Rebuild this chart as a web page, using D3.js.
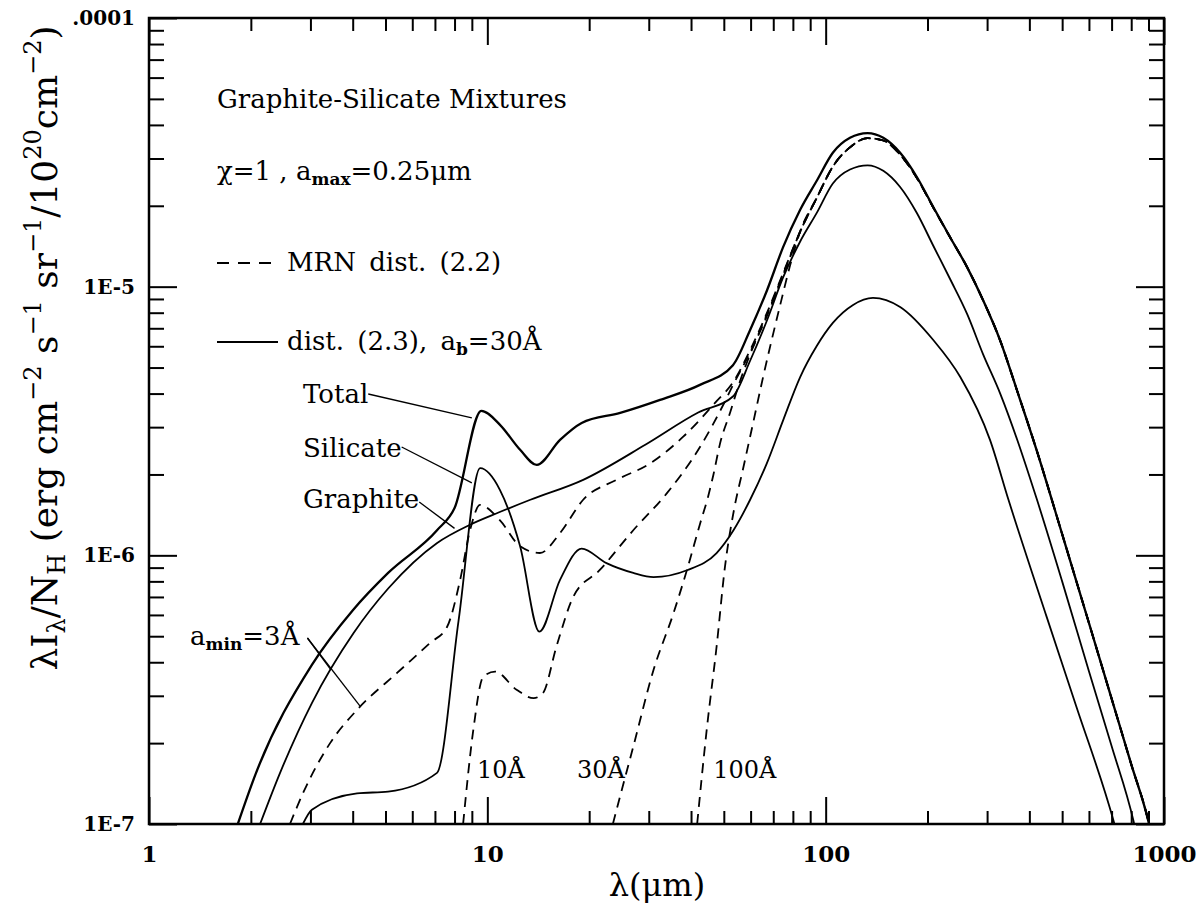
<!DOCTYPE html>
<html><head><meta charset="utf-8">
<script src="https://cdn.jsdelivr.net/npm/d3@7"></script>
<style>body{margin:0;background:#fff}text{font-family:"DejaVu Serif",serif;fill:#000}</style>
</head><body><svg id="c" width="1200" height="910"></svg>
<script>
// ---------- data (λ in µm, λI_λ/N_H) ----------
const xTickValues = [1, 10, 100, 1000];
const xTickLabels = ["1", "10", "100", "1000"];
const yTickValues = [1e-7, 1e-6, 1e-5, 1e-4];
const yTickLabels = ["1E-7", "1E-6", "1E-5", ".0001"];

// solid: dist. (2.3), a_b = 30 Å
const totalSolid = [[1.83,1.0e-7],[2.06,1.52e-7],[3.03,3.91e-7],[4.01,6.26e-7],[5.09,8.6e-7],[7.1,1.24e-6],[8.0,1.5e-6],[9.6,3.45e-6],[10.9,3.06e-6],[12.5,2.47e-6],[14.0,2.17e-6],[16.4,2.69e-6],[19.0,3.11e-6],[24.7,3.39e-6],[32.4,3.79e-6],[42.5,4.31e-6],[53.2,5.1e-6],[59.8,6.9e-6],[67.1,9.7e-6],[74.8,1.4e-5],[84,1.93e-5],[94.3,2.49e-5],[105,3.15e-5],[118,3.58e-5],[133,3.73e-5],[148,3.58e-5],[166,3.15e-5],[186,2.56e-5],[208,1.98e-5],[233,1.53e-5],[262,1.18e-5],[292,8.9e-6],[328,6.3e-6],[368,4.1e-6],[420,2.47e-6],[500,1.2e-6],[600,5.6e-7],[700,2.93e-7],[800,1.67e-7],[898,1.03e-7],[920,0.9e-7]];
const graphiteSolid = [[2.13,1.0e-7],[2.44,1.55e-7],[3.03,2.82e-7],[4.02,5.13e-7],[5.1,7.54e-7],[7.09,1.11e-6],[8.89,1.3e-6],[10.75,1.44e-6],[13.4,1.61e-6],[19.2,1.91e-6],[29.3,2.58e-6],[42,3.4e-6],[53.2,3.9e-6],[59.8,5.3e-6],[67.1,7.5e-6],[74.8,1.08e-5],[84,1.47e-5],[94.3,1.89e-5],[105,2.42e-5],[118,2.73e-5],[133,2.83e-5],[148,2.7e-5],[166,2.35e-5],[186,1.88e-5],[208,1.42e-5],[233,1.07e-5],[262,7.9e-6],[292,5.6e-6],[328,4.0e-6],[368,2.7e-6],[420,1.63e-6],[500,8.0e-7],[600,3.7e-7],[700,1.95e-7],[812,1.03e-7],[840,0.85e-7]];
const silicateSolid = [[2.85,1.0e-7],[3.03,1.13e-7],[4.12,1.3e-7],[5.09,1.32e-7],[7.1,1.55e-7],[8.22,5.7e-7],[9.52,2.11e-6],[10.9,1.75e-6],[12.5,1.08e-6],[14.25,5.2e-7],[16.4,8.1e-7],[19.0,1.06e-6],[22.5,9.35e-7],[27.0,8.6e-7],[31,8.3e-7],[38.9,8.8e-7],[47.6,1.02e-6],[53.4,1.24e-6],[59.8,1.61e-6],[67,2.2e-6],[75,3.2e-6],[84,4.6e-6],[94,6.0e-6],[105,7.33e-6],[120.5,8.55e-6],[138,9.08e-6],[166,8.4e-6],[208,6.33e-6],[250,4.61e-6],[306,2.69e-6],[347,1.61e-6],[450,5.9e-7],[550,2.75e-7],[709,1.03e-7],[730,0.9e-7]];

// dashed: MRN dist. (2.2), different a_min (mid-IR parts) + common far-IR part
const mrn3Mid = [[2.61,1.0e-7],[2.85,1.3e-7],[3.43,2.0e-7],[4.12,2.66e-7],[5.41,3.65e-7],[6.77,4.72e-7],[7.6,5.41e-7],[8.31,8.1e-7],[8.89,1.24e-6],[9.52,1.54e-6],[10.9,1.35e-6],[12.5,1.08e-6],[14.3,1.02e-6],[16.4,1.21e-6],[19.2,1.61e-6],[24.1,1.91e-6],[30.3,2.2e-6],[38,2.77e-6],[47.6,3.75e-6],[53.2,4.4e-6],[59.8,5.8e-6],[67.1,8.0e-6],[74.8,1.12e-5]];
const mrn10Mid = [[8.48,1.0e-7],[9.09,2.24e-7],[9.73,3.54e-7],[10.54,3.69e-7],[12.2,3.16e-7],[13.7,2.94e-7],[14.6,3.07e-7],[16.0,4.57e-7],[17.96,7.02e-7],[21.5,8.82e-7],[27,1.24e-6],[33.9,1.7e-6],[42.6,2.54e-6],[49.9,3.65e-6],[53.2,4.3e-6],[59.8,5.7e-6],[67.1,7.9e-6],[74.8,1.11e-5]];
const mrn30Mid = [[23.5,1.0e-7],[24.1,1.13e-7],[27,1.94e-7],[31,3.75e-7],[35.5,6.09e-7],[38.9,8.82e-7],[42.6,1.32e-6],[44.9,1.65e-6],[46.6,2.0e-6],[48.7,2.6e-6],[52.2,3.4e-6],[56,4.5e-6],[59.8,5.6e-6],[67.1,7.8e-6],[74.8,1.1e-5]];
const mrn100Mid = [[41.7,1.0e-7],[44.5,2.24e-7],[47.6,4.57e-7],[50.4,9.08e-7],[53.6,1.48e-6],[57,2.1e-6],[61,3.1e-6],[65.3,4.6e-6],[73.3,8.5e-6],[78.5,1.2e-5]];
const mrnFar = [[84,1.6e-5],[94.3,2.15e-5],[105,2.8e-5],[118,3.3e-5],[133,3.57e-5],[148,3.5e-5],[166,3.1e-5],[186,2.54e-5],[208,1.97e-5],[233,1.53e-5],[262,1.18e-5],[292,8.9e-6],[328,6.3e-6],[368,4.1e-6],[420,2.47e-6],[500,1.2e-6],[600,5.6e-7],[700,2.93e-7],[800,1.67e-7],[898,1.03e-7],[920,0.9e-7]];

// annotation targets (data coordinates the leader lines point to)
const leaderTargets = {
  Total: [9.0, 3.25e-6],
  Silicate: [9.0, 1.86e-6],
  Graphite: [8.0, 1.26e-6],
  amin1: [3.45, 3.75e-7],
  amin2: [4.2, 2.75e-7]
};
const aminLabels = [["10Å", 9.32], ["30Å", 18.4], ["100Å", 46.5]];

// ---------- drawing ----------
const svg = d3.select("#c");
const L = 149, R = 1164, T = 18, B = 824;
const x = d3.scaleLog().domain([1, 1000]).range([L, R]);
const y = d3.scaleLog().domain([1e-7, 1e-4]).range([B, T]);

svg.append("defs").append("clipPath").attr("id", "clip")
  .append("rect").attr("x", L).attr("y", T).attr("width", R - L).attr("height", B - T);

const line = d3.line().x(d => x(d[0])).y(d => y(d[1])).curve(d3.curveMonotoneX);
const g = svg.append("g").attr("clip-path", "url(#clip)");

function solid(data, w) {
  g.append("path").attr("d", line(data)).attr("fill", "none").attr("stroke", "#000")
    .attr("stroke-width", w).attr("stroke-linejoin", "round");
}
function dashed(data) {
  g.append("path").attr("d", line(data)).attr("fill", "none").attr("stroke", "#000")
    .attr("stroke-width", 1.8).attr("stroke-dasharray", "10,7");
}
dashed(mrn3Mid.concat(mrnFar));
dashed(mrn10Mid.concat(mrnFar));
dashed(mrn30Mid.concat(mrnFar));
dashed(mrn100Mid.concat(mrnFar));
solid(graphiteSolid, 1.8);
solid(silicateSolid, 1.8);
solid(totalSolid, 2.3);

// axes
const minorX = [];
[1, 10, 100].forEach(d => { for (let k = 2; k <= 9; k++) minorX.push(d * k); });
const minorY = [];
[1e-7, 1e-6, 1e-5].forEach(d => { for (let k = 2; k <= 9; k++) minorY.push(d * k); });

function ax(gen, scale, tv, size, pos, fmt) {
  const a = gen(scale).tickValues(tv).tickSize(-size).tickSizeOuter(0);
  if (fmt) a.tickFormat(fmt); else a.tickFormat("");
  const sel = svg.append("g").attr("transform", pos).call(a);
  sel.select(".domain").remove();
  sel.selectAll(".tick line").attr("stroke", "#000").attr("stroke-width", 2);
  return sel;
}
const xb = ax(d3.axisBottom, x, xTickValues, 27, `translate(0,${B})`, (d, i) => xTickLabels[i]);
xb.selectAll(".tick text").attr("font-size", 23).attr("font-weight", "bold")
  .attr("font-family", "DejaVu Serif").attr("fill", "#000").attr("y", 22);
ax(d3.axisBottom, x, minorX, 13, `translate(0,${B})`);
ax(d3.axisTop, x, xTickValues, 27, `translate(0,${T})`);
ax(d3.axisTop, x, minorX, 13, `translate(0,${T})`);
const yl = ax(d3.axisLeft, y, yTickValues, 28, `translate(${L},0)`, (d, i) => yTickLabels[i]);
yl.selectAll(".tick text").attr("font-size", 20).attr("font-weight", "bold")
  .attr("font-family", "DejaVu Serif").attr("fill", "#000").attr("x", -14);
ax(d3.axisLeft, y, minorY, 15, `translate(${L},0)`);
ax(d3.axisRight, y, yTickValues, 28, `translate(${R},0)`);
ax(d3.axisRight, y, minorY, 15, `translate(${R},0)`);

svg.append("rect").attr("x", L).attr("y", T).attr("width", R - L).attr("height", B - T)
  .attr("fill", "none").attr("stroke", "#000").attr("stroke-width", 2.5);

// axis titles
svg.append("text").attr("x", 657).attr("y", 896).attr("text-anchor", "middle")
  .attr("font-size", 32).text("λ(μm)");

const yt = svg.append("text").attr("transform", "translate(57,348) rotate(-90)")
  .attr("text-anchor", "middle").attr("font-size", 36);
const S = 24;
yt.append("tspan").text("λI");
yt.append("tspan").attr("font-size", S).attr("dy", 8).text("λ");
yt.append("tspan").attr("dy", -8).text("/N");
yt.append("tspan").attr("font-size", S).attr("dy", 8).text("H");
yt.append("tspan").attr("dy", -8).text(" (erg cm");
yt.append("tspan").attr("font-size", S).attr("dy", -16).text("−2");
yt.append("tspan").attr("dy", 16).text(" s");
yt.append("tspan").attr("font-size", S).attr("dy", -16).text("−1");
yt.append("tspan").attr("dy", 16).text(" sr");
yt.append("tspan").attr("font-size", S).attr("dy", -16).text("−1");
yt.append("tspan").attr("dy", 16).text("/10");
yt.append("tspan").attr("font-size", S).attr("dy", -16).text("20");
yt.append("tspan").attr("dy", 16).text("cm");
yt.append("tspan").attr("font-size", S).attr("dy", -16).text("−2");
yt.append("tspan").attr("dy", 16).text(")");

// in-plot text
const fs = 26, fsub = 17;
svg.append("text").attr("x", 217).attr("y", 108).attr("font-size", fs).text("Graphite-Silicate Mixtures");
const t2 = svg.append("text").attr("x", 217).attr("y", 180).attr("font-size", fs);
t2.append("tspan").text("χ=1 , a");
t2.append("tspan").attr("font-size", fsub).attr("font-weight", "bold").attr("dy", 5).text("max");
t2.append("tspan").attr("dy", -5).text("=0.25μm");

svg.append("line").attr("x1", 217).attr("x2", 274).attr("y1", 263).attr("y2", 263)
  .attr("stroke", "#000").attr("stroke-width", 1.8).attr("stroke-dasharray", "12,9");
svg.append("text").attr("x", 287).attr("y", 271).attr("font-size", fs).attr("word-spacing", 5).text("MRN dist. (2.2)");
svg.append("line").attr("x1", 217).attr("x2", 278).attr("y1", 342).attr("y2", 342)
  .attr("stroke", "#000").attr("stroke-width", 2);
const t4 = svg.append("text").attr("x", 287).attr("y", 350).attr("font-size", fs).attr("word-spacing", 5);
t4.append("tspan").text("dist. (2.3), a");
t4.append("tspan").attr("font-size", fsub).attr("font-weight", "bold").attr("dy", 5).text("b");
t4.append("tspan").attr("dy", -5).text("=30Å");

function label(txt, lx, ly, target, oy) {
  const t = svg.append("text").attr("x", lx).attr("y", ly).attr("font-size", fs).text(txt);
  const w = t.node().getComputedTextLength();
  svg.append("line").attr("x1", lx + w).attr("y1", ly - oy)
    .attr("x2", x(target[0])).attr("y2", y(target[1])).attr("stroke", "#000").attr("stroke-width", 1.3);
}
label("Total", 303, 403, leaderTargets.Total, 9);
label("Silicate", 303, 457, leaderTargets.Silicate, 10);
label("Graphite", 303, 508, leaderTargets.Graphite, 6);

const am = svg.append("text").attr("x", 190).attr("y", 645).attr("font-size", fs);
am.append("tspan").text("a");
am.append("tspan").attr("font-size", fsub).attr("font-weight", "bold").attr("dy", 5).text("min");
am.append("tspan").attr("dy", -5).text("=3Å");
const aw = am.node().getComputedTextLength();
[leaderTargets.amin1, leaderTargets.amin2].forEach(tg => {
  svg.append("line").attr("x1", 190 + aw + 8).attr("y1", 638)
    .attr("x2", x(tg[0])).attr("y2", y(tg[1])).attr("stroke", "#000").attr("stroke-width", 1.3);
});
aminLabels.forEach(([txt, lam]) => {
  svg.append("text").attr("x", x(lam)).attr("y", 778).attr("font-size", 24).text(txt);
});
</script></body></html>
